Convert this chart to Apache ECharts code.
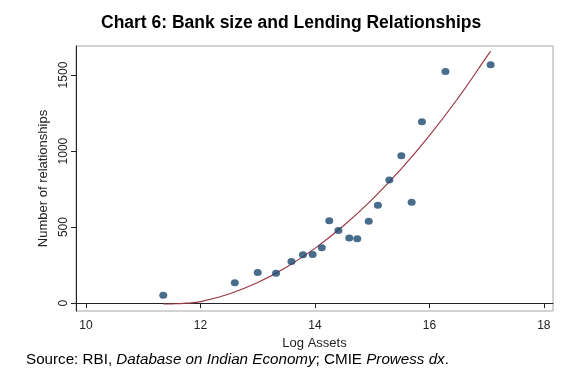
<!DOCTYPE html>
<html>
<head>
<meta charset="utf-8">
<script src="https://cdn.jsdelivr.net/npm/echarts@6/dist/echarts.min.js"></script>
<style>
html,body{margin:0;padding:0;background:#fff;}
#chart{width:569px;height:379px;}
</style>
</head>
<body>
<div id="chart"></div>
<script>
// Scatter points: log assets and number of relationships
const logAssets = [11.35, 12.60, 13.00, 13.32, 13.59, 13.79, 13.96, 14.12, 14.25, 14.41, 14.60, 14.74, 14.94, 15.10, 15.30, 15.51, 15.69, 15.87, 16.28, 17.07];
const relationships = [51, 134, 202, 197, 274, 318, 320, 364, 541, 478, 428, 423, 539, 643, 809, 969, 664, 1193, 1524, 1568];

// Fitted curve
const fitX = [11.35, 11.5, 11.75, 12, 12.5, 13, 13.5, 14, 14.5, 15, 15.5, 16, 16.5, 17, 17.07];
const fitY = [-6, -5, 0, 10, 60, 135, 236, 360, 509, 682, 880, 1102, 1348, 1619, 1655];

const xTicks = [10, 12, 14, 16, 18];
const yTicks = [0, 500, 1000, 1500];

const titleText = 'Chart 6: Bank size and Lending Relationships';
const xName = 'Log Assets';
const yName = 'Number of relationships';

const chart = echarts.init(document.getElementById('chart'));
const font = 'Liberation Sans, Arial, sans-serif';

chart.setOption({
  animation: false,
  backgroundColor: '#ffffff',
  textStyle: { fontFamily: font },
  grid: {
    left: 76, right: 16, top: 46, bottom: 68,
    show: true, borderColor: '#a6a6a6', borderWidth: 1, backgroundColor: '#ffffff'
  },
  xAxis: {
    type: 'value', min: 9.825, max: 18.16,
    name: xName, nameLocation: 'middle', nameGap: 18,
    nameTextStyle: { fontSize: 13, color: '#222', fontFamily: font },
    axisLine: { show: true, lineStyle: { color: '#222', width: 1 } },
    axisTick: { show: true, customValues: xTicks, length: 5, lineStyle: { color: '#222' } },
    axisLabel: { customValues: xTicks, fontSize: 12, color: '#222', margin: 9, fontFamily: font },
    splitLine: { show: false }
  },
  yAxis: {
    type: 'value', min: -52, max: 1691,
    name: yName, nameLocation: 'middle', nameGap: 24, nameRotate: 90,
    nameTextStyle: { fontSize: 13, color: '#222', fontFamily: font },
    axisLine: { show: true, lineStyle: { color: '#222', width: 1 } },
    axisTick: { show: true, customValues: yTicks, length: 5, lineStyle: { color: '#222' } },
    axisLabel: { customValues: yTicks, rotate: 90, fontSize: 12, color: '#222', margin: 6, fontFamily: font,
      formatter: v => String(v) },
    splitLine: { show: false }
  },
  graphic: [
    {
      type: 'text', left: 101, top: 14,
      style: { text: titleText, fontSize: 17.5, fontWeight: 'bold', fill: '#000', fontFamily: font }
    },
    {
      type: 'text', left: 26, top: 352,
      style: {
        text: 'Source: RBI, {i|Database on Indian Economy}; CMIE {i|Prowess dx}.',
        fontSize: 15.2, fill: '#000', fontFamily: font,
        rich: { i: { fontStyle: 'italic', fontSize: 15.2, fill: '#000', fontFamily: font } }
      }
    }
  ],
  series: [
    {
      type: 'line',
      data: fitX.map((x, i) => [x, fitY[i]]),
      smooth: true, showSymbol: false, symbol: 'none',
      lineStyle: { color: '#9a3a45', width: 1.2 },
      z: 2
    },
    {
      type: 'scatter',
      data: logAssets.map((x, i) => [x, relationships[i]]),
      symbol: 'circle', symbolSize: [8, 7],
      itemStyle: { color: '#1a476f' },
      z: 3
    }
  ]
});
</script>
</body>
</html>
